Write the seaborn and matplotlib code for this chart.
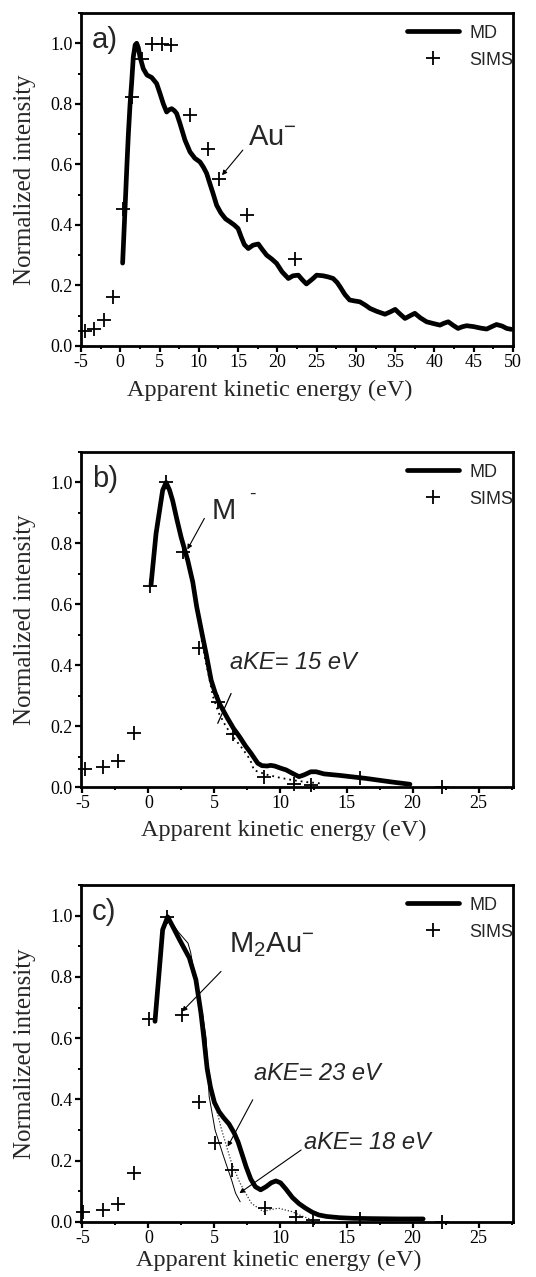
import matplotlib
matplotlib.use("Agg")
import matplotlib.pyplot as plt
import seaborn as sns
from matplotlib.lines import Line2D
from matplotlib.ticker import MultipleLocator

# ---------------- data ----------------
# (a) Au-
md_a_e = [0.3, 0.6, 0.85, 1.03, 1.25, 1.45, 1.66, 1.9, 2.09, 2.3, 2.51, 2.93, 3.4, 4.0, 4.63,
          5.06, 5.48, 5.9, 6.2, 6.54, 6.9, 7.18, 7.6, 8.24, 8.88, 9.5, 10.15, 10.6, 11.0, 11.4,
          11.8, 12.27, 12.8, 13.4, 13.97, 14.5, 15.0, 15.4, 15.8, 16.3, 16.9, 17.57, 18.1, 18.64,
          19.3, 19.9, 20.6, 21.4, 22.0, 22.67, 23.2, 23.7, 24.5, 25.0, 25.8, 26.5, 27.1, 27.6,
          27.97, 28.6, 29.2, 29.8, 30.5, 31.2, 31.8, 32.7, 33.7, 34.4, 35.0, 35.6, 36.25, 36.9,
          37.5, 38.2, 39.0, 39.9, 40.7, 41.2, 41.76, 42.4, 43.0, 43.6, 44.1, 45.0, 45.9, 46.65,
          47.3, 47.9, 48.6, 49.2, 49.8]
md_a_i = [0.274, 0.45, 0.6, 0.70, 0.80, 0.87, 0.955, 0.995, 1.0, 0.985, 0.955, 0.916, 0.895, 0.887, 0.867,
          0.834, 0.80, 0.773, 0.78, 0.784, 0.777, 0.768, 0.735, 0.68, 0.641, 0.62, 0.608, 0.59, 0.57, 0.537,
          0.505, 0.465, 0.44, 0.42, 0.41, 0.40, 0.388, 0.36, 0.335, 0.322, 0.333, 0.337, 0.318, 0.30,
          0.287, 0.273, 0.245, 0.223, 0.232, 0.234, 0.218, 0.205, 0.222, 0.234, 0.232, 0.228, 0.223, 0.21,
          0.196, 0.17, 0.152, 0.149, 0.146, 0.135, 0.124, 0.114, 0.105, 0.113, 0.121, 0.106, 0.091, 0.10,
          0.108, 0.093, 0.08, 0.074, 0.069, 0.075, 0.08, 0.068, 0.058, 0.064, 0.067, 0.064, 0.059, 0.056,
          0.064, 0.071, 0.066, 0.058, 0.055]
sims_a_e = [-4.5, -3.3, -2.07, -0.88, 0.39, 1.53, 2.72, 4.08, 5.27, 6.42, 8.88, 11.2, 12.57, 16.1, 22.2]
sims_a_i = [0.05, 0.055, 0.086, 0.163, 0.451, 0.823, 0.949, 0.999, 0.999, 0.993, 0.762, 0.65, 0.553, 0.432, 0.289]

# (b) M-
md_b_e = [0.2, 0.58, 1.08, 1.34, 1.6, 1.84, 2.15, 2.48, 2.98, 3.36, 3.66, 4.11, 4.37, 4.75, 5.05,
          5.38, 6.0, 6.45, 6.9, 7.35, 7.78, 8.28, 8.6, 9.0, 9.25, 9.55, 10.0, 10.43, 10.9, 11.4,
          11.8, 12.3, 12.7, 13.3, 14.5, 15.5, 16.5, 17.5, 18.5, 19.8]
md_b_i = [0.664, 0.832, 0.974, 1.0, 0.975, 0.94, 0.88, 0.82, 0.744, 0.673, 0.591, 0.493, 0.438, 0.351, 0.31,
          0.274, 0.225, 0.192, 0.165, 0.135, 0.11, 0.078, 0.07, 0.069, 0.071, 0.069, 0.062, 0.056, 0.045, 0.034,
          0.04, 0.05, 0.05, 0.043, 0.038, 0.033, 0.028, 0.022, 0.016, 0.009]
fit_b15_e = [3.4, 3.7, 4.0, 4.3, 4.6, 4.87, 5.3, 5.88, 6.5, 7.14, 7.7, 8.0, 9.0, 10.0, 11.0, 12.0, 13.0]
fit_b15_i = [0.67, 0.58, 0.49, 0.42, 0.36, 0.30, 0.245, 0.198, 0.16, 0.125, 0.09, 0.055, 0.04, 0.03, 0.022, 0.016, 0.012]
sims_b_e = [-4.77, -3.46, -2.32, -1.06, 0.13, 1.34, 2.6, 3.81, 5.25, 6.39, 8.74, 11.06, 12.33, 16.0, 22.2]
sims_b_i = [0.059, 0.067, 0.086, 0.178, 0.659, 1.0, 0.771, 0.455, 0.28, 0.173, 0.034, 0.009, 0.007, 0.03, 0.0]

# (c) M2Au-
md_c_e = [0.5, 0.83, 1.08, 1.46, 1.84, 2.35, 3.1, 3.6, 3.98, 4.2, 4.45, 4.7, 5.0, 5.35, 5.7,
          6.1, 6.5, 6.8, 7.1, 7.4, 7.75, 8.1, 8.5, 8.9, 9.3, 9.65, 10.0, 10.4, 10.9, 11.4,
          11.9, 12.4, 12.9, 13.5, 14.5, 15.5, 17.0, 19.0, 20.8]
md_c_i = [0.655, 0.824, 0.954, 0.996, 0.965, 0.922, 0.862, 0.79, 0.682, 0.6, 0.5, 0.44, 0.39, 0.36, 0.34,
          0.32, 0.29, 0.26, 0.22, 0.18, 0.14, 0.115, 0.105, 0.115, 0.128, 0.134, 0.128, 0.108, 0.08, 0.06,
          0.045, 0.032, 0.023, 0.018, 0.014, 0.012, 0.011, 0.01, 0.01]
fit_c18_e = [1.4, 1.8, 2.3, 2.7, 3.0, 3.2, 3.4, 3.6, 3.85, 4.1, 4.37, 4.6, 5.05, 5.7, 6.3, 6.6, 6.95]
fit_c18_i = [1.0, 0.975, 0.945, 0.925, 0.91, 0.88, 0.83, 0.77, 0.72, 0.68, 0.6, 0.41, 0.30, 0.213, 0.137, 0.094, 0.066]
fit_c23_e = [4.3, 4.5, 4.9, 5.55, 6.3, 6.95, 7.8, 8.7, 9.2, 9.85, 10.85, 11.6, 12.4]
fit_c23_i = [0.6, 0.52, 0.41, 0.30, 0.192, 0.126, 0.061, 0.034, 0.04, 0.045, 0.034, 0.02, 0.007]
sims_c_e = [-4.98, -3.46, -2.32, -1.06, 0.08, 1.42, 2.55, 3.81, 5.08, 6.31, 8.79, 11.19, 12.45, 16.0, 22.2]
sims_c_i = [0.034, 0.039, 0.058, 0.159, 0.662, 0.996, 0.676, 0.393, 0.257, 0.17, 0.045, 0.017, 0.007, 0.01, 0.0]

x_label = "Apparent kinetic energy (eV)"
y_label = "Normalized intensity"
legend_labels = ["MD", "SIMS"]

# ---------------- style ----------------
sns.set_theme(style="ticks")
plt.rcParams.update({
    "font.family": ["Liberation Serif", "DejaVu Serif"],
    "mathtext.default": "regular",
    "axes.linewidth": 2.0,
    "axes.edgecolor": "black",
    "xtick.color": "black",
    "ytick.color": "black",
    "xtick.direction": "out",
    "ytick.direction": "out",
    "xtick.major.size": 4,
    "ytick.major.size": 4,
    "xtick.minor.size": 2.5,
    "ytick.minor.size": 2.5,
    "xtick.major.width": 1.6,
    "ytick.major.width": 1.6,
    "xtick.minor.width": 1.4,
    "ytick.minor.width": 1.4,
})
SANS = ["Liberation Sans", "DejaVu Sans"]

W, H = 536, 1277
fig = plt.figure(figsize=(W / 100, H / 100), dpi=100)
fig.patch.set_facecolor("white")


def axes_px(left, top, right, bottom):
    return fig.add_axes([left / W, 1 - bottom / H, (right - left) / W, (bottom - top) / H])


def setup(ax, xmin, xmax, tag, xlabel_xy):
    ax.set_xlim(xmin, xmax)
    ax.set_ylim(0, 1.1)
    ax.xaxis.set_major_locator(MultipleLocator(5))
    ax.xaxis.set_minor_locator(MultipleLocator(2.5))
    ax.yaxis.set_major_locator(MultipleLocator(0.2))
    ax.yaxis.set_minor_locator(MultipleLocator(0.1))
    ax.xaxis.set_major_formatter(lambda v, p: f"{v:g}")
    ax.yaxis.set_major_formatter(lambda v, p: f"{v:.1f}")
    ax.tick_params(which="both", top=False, right=False, labelsize=13, pad=2)
    ax.set_xlabel(x_label, fontsize=17.5)
    ax.set_ylabel(y_label, fontsize=18)
    ax.xaxis.set_label_coords(*xlabel_xy)
    ax.yaxis.set_label_coords(-0.105, 0.5)
    ax.set_facecolor("white")
    for s in ax.spines.values():
        s.set_visible(True)
        s.set_linewidth(2.0)
        s.set_color("black")
    ax.text(0.025, 0.962, tag, transform=ax.transAxes, ha="left", va="top",
            fontsize=21, family=SANS)
    handles = [Line2D([], [], color="black", lw=3.4),
               Line2D([], [], color="black", lw=0, marker="+", markersize=9.5, markeredgewidth=1.3)]
    ax.legend(handles, legend_labels, loc="upper right", bbox_to_anchor=(1.028, 1.0),
              frameon=False, prop={"family": SANS, "size": 13}, handlelength=2.9,
              handletextpad=0.55, labelspacing=0.55, borderaxespad=0.25)


def md_line(ax, e, i, **kw):
    sns.lineplot(x=e, y=i, sort=False, estimator=None, color="black", ax=ax, legend=False, **kw)


def sims(ax, e, i):
    sns.scatterplot(x=e, y=i, marker="+", s=90, color="black", linewidth=1.3, ax=ax,
                    legend=False, clip_on=False, zorder=5)


arrow = dict(arrowstyle="-|>", color="black", lw=0.8, mutation_scale=7, shrinkA=0, shrinkB=0)
plain = dict(arrowstyle="-", color="black", lw=0.9, shrinkA=0, shrinkB=0)

# ---- panel a ----
ax_a = axes_px(81, 13, 513, 346)
md_line(ax_a, md_a_e, md_a_i, lw=3.4)
sims(ax_a, sims_a_e, sims_a_i)
setup(ax_a, -5, 50, "a)", (0.4375, -0.102))
ax_a.text(16.3, 0.69, "Au$^{-}$", fontsize=21, family=SANS, ha="left", va="center")
ax_a.annotate("", xy=(12.95, 0.564), xytext=(15.6, 0.647), arrowprops=arrow)

# ---- panel b ----
ax_b = axes_px(81, 452, 513, 787)
md_line(ax_b, fit_b15_e, fit_b15_i, lw=1.3, linestyle=(0, (1, 2.2)))
md_line(ax_b, md_b_e, md_b_i, lw=3.4)
sims(ax_b, sims_b_e, sims_b_i)
setup(ax_b, -5.1, 27.6, "b)", (0.47, -0.098))
ax_b.text(4.8, 0.905, "M", fontsize=21, family=SANS, ha="left", va="center")
ax_b.text(7.6, 0.962, "-", fontsize=14, family=SANS, ha="left", va="center")
ax_b.annotate("", xy=(2.95, 0.78), xytext=(4.24, 0.882), arrowprops=arrow)
ax_b.text(6.2, 0.41, "aKE= 15 eV", fontsize=17, family=SANS, style="italic", ha="left", va="center")
ax_b.annotate("", xy=(5.25, 0.209), xytext=(6.26, 0.307), arrowprops=plain)

# ---- panel c ----
ax_c = axes_px(81, 885, 513, 1222)
md_line(ax_c, fit_c18_e, fit_c18_i, lw=0.7)
md_line(ax_c, fit_c23_e, fit_c23_i, lw=0.9, linestyle=(0, (1, 1.5)), alpha=0.8)
md_line(ax_c, md_c_e, md_c_i, lw=3.4)
sims(ax_c, sims_c_e, sims_c_i)
setup(ax_c, -5.1, 27.6, "c)", (0.458, -0.083))
ax_c.text(6.1, 0.905, "M$_2$Au$^{-}$", fontsize=21, family=SANS, ha="left", va="center")
ax_c.annotate("", xy=(2.55, 0.687), xytext=(5.5, 0.818), arrowprops=arrow)
ax_c.text(8.0, 0.484, "aKE= 23 eV", fontsize=17, family=SANS, style="italic", ha="left", va="center")
ax_c.annotate("", xy=(6.0, 0.246), xytext=(7.9, 0.399), arrowprops=arrow)
ax_c.text(11.8, 0.258, "aKE= 18 eV", fontsize=17, family=SANS, style="italic", ha="left", va="center")
ax_c.annotate("", xy=(6.89, 0.094), xytext=(11.56, 0.235), arrowprops=arrow)

fig.savefig("out.png", dpi=100, facecolor="white")
